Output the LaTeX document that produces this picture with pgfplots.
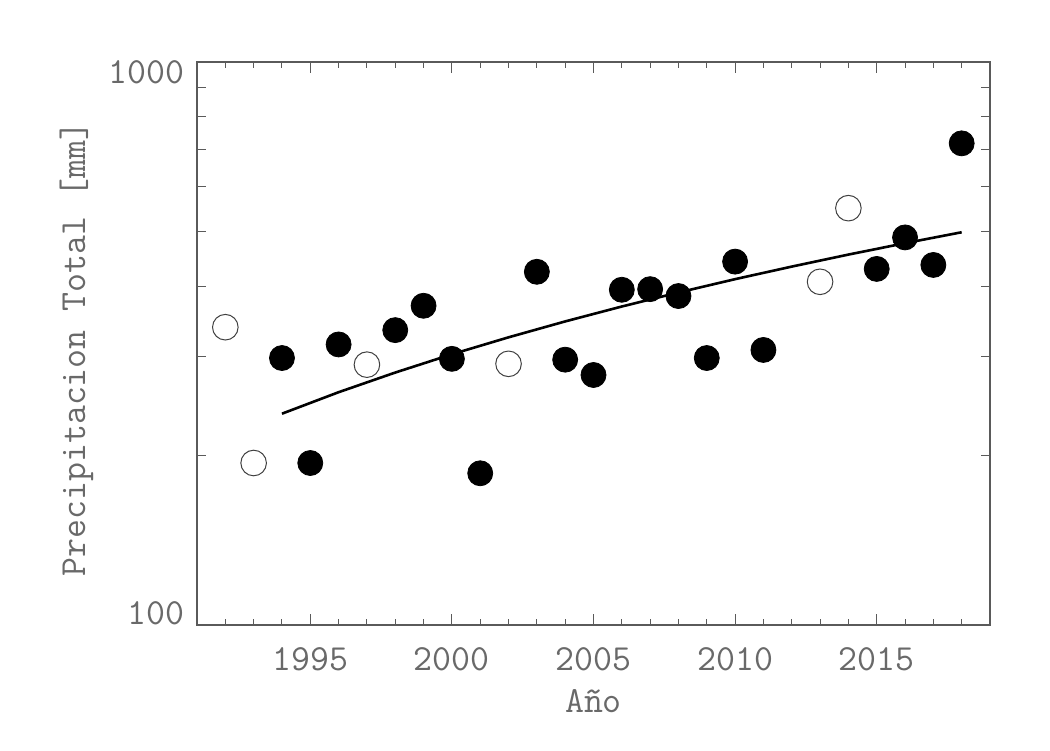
\documentclass[border=0pt]{standalone}
\usepackage{fontspec}
\usepackage{pgfplots}
\usepackage{pgfplotstable}
\pgfplotsset{compat=1.18}
\definecolor{labgray}{RGB}{105,105,105}
\definecolor{axgray}{RGB}{90,90,90}
\newcommand{\labfont}{\ttfamily\fontsize{18.4}{22}\selectfont}

\pgfplotstableread{
year value
1994 298
1995 194
1996 315
1998 334
1999 369
2000 297
2001 186
2003 424
2004 296
2005 278
2006 394
2007 395
2008 384
2009 298
2010 442
2011 308
2015 429
2016 488
2017 436
2018 717
}\filled

\pgfplotstableread{
year value
1992 338
1993 194
1997 290
2002 291
2013 407
2014 550
}\open

\pgfplotstableread{
year value
1994 237.3
1996 259.1
1998 280.8
2000 302.6
2002 324.3
2004 346.1
2006 367.9
2008 389.6
2010 411.4
2012 433.1
2014 454.9
2016 476.6
2018 498.4
}\trend

\begin{document}
\begin{tikzpicture}
\useasboundingbox (0pt,0pt) rectangle (525pt,375pt);
\begin{axis}[
  scale only axis,
  width=396.5pt, height=281.5pt,
  at={(98.5pt,62.5pt)}, anchor=south west,
  ymode=log,
  xmin=1991, xmax=2019, ymin=100, ymax=1000,
  xtick={1995,2000,2005,2010,2015},
  xticklabels={1995,2000,2005,2010,2015},
  ytick={100,1000},
  yticklabels={100,{\raisebox{-11pt}{1000}}},
  xminorticks=false, yminorticks=false,
  extra x ticks={1992,1993,...,2018},
  extra x tick labels={},
  extra x tick style={major tick length=3pt},
  extra y ticks={200,300,400,500,600,700,800,900},
  extra y tick labels={},
  extra y tick style={major tick length=4.5pt},
  major tick length=5.5pt,
  tick align=inside,
  tick style={axgray, line width=0.5pt},
  axis line style={axgray, line width=0.6pt},
  tick label style={font=\labfont, text=labgray},
  xticklabel style={anchor=base, inner sep=0pt, yshift=-23pt},
  yticklabel style={anchor=base east, inner sep=0pt, xshift=-6pt},
  xlabel={Año},
  ylabel={Precipitacion Total [mm]},
  every axis x label/.style={at={(axis description cs:0.5,-0.156)}, anchor=base, font=\labfont, text=labgray},
  every axis y label/.style={at={(axis description cs:-0.1412,0.49)}, anchor=base, rotate=90, font=\labfont, text=labgray},
]
\addplot[black, line width=1.3pt] table[x=year, y=value] {\trend};
\addplot[only marks, mark=*, mark size=6.25pt, mark options={fill=black, draw=black}] table[x=year, y=value] {\filled};
\addplot[only marks, mark=*, mark size=6.4pt, mark options={fill=white, draw=black!75, line width=0.5pt}] table[x=year, y=value] {\open};
\end{axis}
\end{tikzpicture}
\end{document}
